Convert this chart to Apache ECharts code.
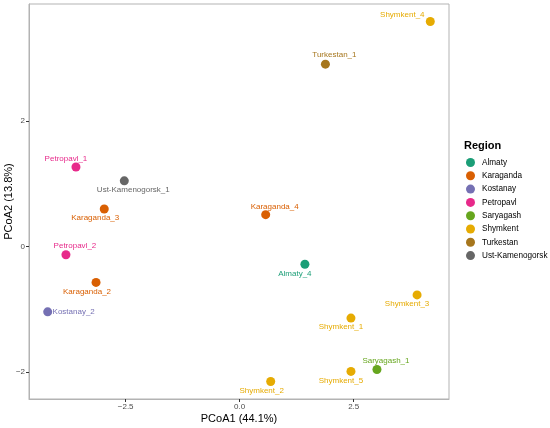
<!DOCTYPE html>
<html>
<head>
<meta charset="utf-8">
<script src="https://cdn.jsdelivr.net/npm/echarts@6/dist/echarts.min.js"></script>
<style>
  html, body { margin: 0; padding: 0; background: #fff; }
  #chart { width: 550px; height: 428px; }
</style>
</head>
<body>
<div id="chart"></div>
<script>
// data
var regions = ['Almaty', 'Karaganda', 'Kostanay', 'Petropavl', 'Saryagash', 'Shymkent', 'Turkestan', 'Ust-Kamenogorsk'];
var sampleNames = ['Shymkent_4', 'Turkestan_1', 'Petropavl_1', 'Ust-Kamenogorsk_1', 'Karaganda_3', 'Karaganda_4',
    'Petropavl_2', 'Karaganda_2', 'Kostanay_2', 'Almaty_4', 'Shymkent_3', 'Shymkent_1', 'Saryagash_1', 'Shymkent_5', 'Shymkent_2'];
var sampleRegion = ['Shymkent', 'Turkestan', 'Petropavl', 'Ust-Kamenogorsk', 'Karaganda', 'Karaganda',
    'Petropavl', 'Karaganda', 'Kostanay', 'Almaty', 'Shymkent', 'Shymkent', 'Saryagash', 'Shymkent', 'Shymkent'];
var pcoa1 = [4.18, 1.88, -3.59, -2.53, -2.97, 0.57, -3.81, -3.15, -4.21, 1.43, 3.89, 2.44, 3.01, 2.44, 0.68];
var pcoa2 = [3.59, 2.91, 1.27, 1.05, 0.60, 0.51, -0.13, -0.57, -1.04, -0.28, -0.77, -1.14, -1.96, -1.99, -2.15];
var xTicks = [-2.5, 0, 2.5];
var yTicks = [-2, 0, 2];

var palette = ['#1B9E77', '#D95F02', '#7570B3', '#E7298A', '#66A61E', '#E6AB02', '#A6761D', '#666666'];

// label nudges (px) like ggrepel put them
var labelNudge = {
    'Shymkent_4': [-28, -7], 'Turkestan_1': [9, -9], 'Petropavl_1': [-10, -8],
    'Ust-Kamenogorsk_1': [9, 9], 'Karaganda_3': [-9, 9], 'Karaganda_4': [9, -8],
    'Petropavl_2': [9, -9], 'Karaganda_2': [-9, 9], 'Kostanay_2': [26, 0],
    'Almaty_4': [-10, 10], 'Shymkent_3': [-10, 9], 'Shymkent_1': [-10, 9],
    'Saryagash_1': [9, -9], 'Shymkent_5': [-10, 9], 'Shymkent_2': [-9, 9]
};

var myChart = echarts.init(document.getElementById('chart'));

var series = regions.map(function (r, k) {
    var pts = [];
    for (var i = 0; i < sampleNames.length; i++) {
        if (sampleRegion[i] !== r) continue;
        pts.push({
            name: sampleNames[i],
            value: [pcoa1[i], pcoa2[i]],
            label: { offset: labelNudge[sampleNames[i]] }
        });
    }
    return {
        name: r,
        type: 'scatter',
        symbolSize: 9,
        itemStyle: { color: palette[k], opacity: 1 },
        label: {
            show: true,
            position: 'inside',
            formatter: '{b}',
            color: palette[k],
            fontSize: 8,
            fontFamily: 'Liberation Sans'
        },
        emphasis: { disabled: true },
        data: pts
    };
});

option = {
    animation: false,
    textStyle: { fontFamily: 'Liberation Sans' },
    color: palette,
    grid: {
        left: 29, top: 4, width: 420, height: 395,
        outerBoundsMode: 'none',
        containLabel: false,
        show: true, borderColor: '#b3b3b3', borderWidth: 1
    },
    title: {
        text: 'Region',
        left: 459, top: 135,
        textStyle: { fontSize: 11, fontWeight: 'bold', color: '#000', fontFamily: 'Liberation Sans' }
    },
    legend: {
        orient: 'vertical',
        left: 461, top: 153,
        icon: 'circle',
        itemWidth: 9, itemHeight: 9,
        itemGap: 4.3,
        textStyle: { fontSize: 8.2, color: '#000', padding: [0, 0, 0, 2] },
        data: regions
    },
    xAxis: {
        type: 'value',
        min: -4.62, max: 4.59,
        name: 'PCoA1 (44.1%)',
        nameLocation: 'middle',
        nameGap: 14,
        nameMoveOverlap: false,
        nameTextStyle: { fontSize: 11, color: '#000' },
        splitLine: { show: false },
        axisLine: { show: true, onZero: false, lineStyle: { color: '#b3b3b3' } },
        axisTick: { show: true, length: 3, lineStyle: { color: '#333' }, customValues: xTicks },
        axisLabel: {
            fontSize: 8, color: '#4d4d4d', margin: 4,
            customValues: xTicks,
            formatter: function (v) { return (v < 0 ? '\u2212' : '') + Math.abs(v).toFixed(1); }
        }
    },
    yAxis: {
        type: 'value',
        min: -2.43, max: 3.87,
        name: 'PCoA2 (13.8%)',
        nameLocation: 'middle',
        nameGap: 15,
        nameRotate: 90,
        nameMoveOverlap: false,
        nameTextStyle: { fontSize: 11, color: '#000' },
        splitLine: { show: false },
        axisLine: { show: true, onZero: false, lineStyle: { color: '#b3b3b3' } },
        axisTick: { show: true, length: 3, lineStyle: { color: '#333' }, customValues: yTicks },
        axisLabel: {
            fontSize: 8, color: '#4d4d4d', margin: 4,
            customValues: yTicks,
            formatter: function (v) { return (v < 0 ? '\u2212' : '') + Math.abs(v); }
        }
    },
    series: series
};

myChart.setOption(option, true);
</script>
</body>
</html>
